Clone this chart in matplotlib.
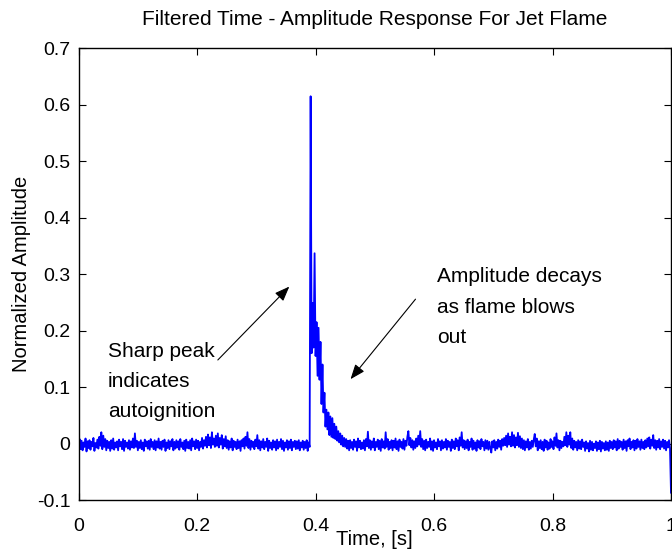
import numpy as np
import matplotlib
matplotlib.use('Agg')
import matplotlib.pyplot as plt

# amplitude samples in thousandths, 600 samples per second
before_ignition = [
    -3, 8, -10, 5, -12, 2, -6, 9, -14, 4, -8, 6, -11, 3, -5, 10, -13, 1, -7, 7,
    -9, 12, -4, 20, -10, 14, -6, 8, -12, 5, -8, 3, -13, 6, -9, 9, -11, 2, -7, 4,
    -12, 7, -5, 3, -10, 8, -13, 5, -6, 2, -9, 6, -11, 4, -7, 9, -8, 18, -6, 5,
    -12, 3, -8, 6, -10, 2, -13, 7, -5, 4, -9, 5, -11, 8, -6, 3, -10, 6, -12, 4,
    -7, 9, -9, 3, -11, 5, -6, 7, -13, 2, -8, 6, -10, 4, -5, 8, -12, 3, -9, 6,
    -7, 4, -11, 8, -6, 2, -10, 5, -13, 7, -8, 3, -9, 6, -12, 9, -5, 4, -10, 7,
    -8, 5, -12, 3, -6, 10, -9, 6, -4, 12, -7, 16, -3, 11, -8, 20, -2, 9, -6, 14,
    -4, 18, -7, 10, -2, 15, -9, 8, -5, 13, -8, 6, -11, 4, -7, 9, -12, 5, -6, 3,
    -10, 7, -8, 4, -13, 6, -5, 9, -9, 12, -4, 20, -8, 8, -11, 5, -6, 3, -10, 7,
    -5, 15, -9, 6, -12, 4, -7, 8, -10, 3, -6, 9, -13, 5, -8, 2, -11, 6, -7, 4,
    -12, 7, -9, 3, -6, 8, -10, 5, -13, 2, -7, 6, -11, 4, -8, 7, -12, 3, -6, 5,
    -10, 4, -9, 6, -12, 2, -7, 5, -11, 3, -8, 6, -13, 2, -6,
]
ignition_peak = [
    615, 160, 249, 170, 337, 155, 215, 120, 205, 113, 180, 70, 140, 55, 90, 30,
    60, 25, 55, 15, 48, 12, 45, 10, 35, 8, 30, 5, 22, 2, 18, -2, 14, -5, 10, -6,
]
after_blowout = [
    8, -9, 5, -12, 6, -8, 3, -11, 7, -6, 4, -13, 9, -7, 5, -10, 2, -9, 6, -12,
    8, -5, 21, -8, 6, -11, 4, -7, 9, -12, 3, -6, 7, -10, 5, -13, 8, -7, 4, -9,
    20, -6, 8, -11, 3, -8, 6, -12, 5, -7, 9, -10, 4, -13, 7, -6, 3, -9, 8, -11,
    5, -4, 12, 22, -3, 10, -7, 6, -11, 4, -8, 9, -5, 14, -2, 22, -6, 8, -10, 5,
    -12, 7, -8, 3, -6, 9, -11, 4, -13, 6, -7, 2, -10, 8, -5, 4, -12, 6, -9, 3,
    -7, 8, -11, 5, -6, 3, -13, 7, -8, 4, -10, 9, -5, 6, -12, 11, -4, 20, -7, 6,
    -10, 4, -8, 7, -12, 3, -6, 9, -11, 5, -9, 2, -13, 6, -7, 4, -10, 8, -5, 3,
    -12, 6, -9, 5, -11, 3, -8, -16, 4, -7, 6, -12, 3, -9, 7, -6, 5, -11, 8, -4,
    10, -3, 14, -6, 18, -2, 12, -5, 20, -4, 15, -7, 11, -3, 19, -6, 13, -8, 9, -10,
    6, -12, 4, -7, 8, -11, 3, -9, 5, -6, 7, 17, -5, 9, -12, 4, -8, 6, -10, 3,
    -13, 7, -7, 5, -11, 2, -9, 8, -6, 4, -10, 11, -4, 18, -7, 6, -12, 5, -8, 3,
    -5, 12, -3, 20, -6, 14, -2, 20, -8, 9, -11, 5, -7, 3, -12, 6, -9, 4, -10, 7,
    -6, 2, -13, 4, -9, 1, -14, 5, -11, 3, -12, 0, -8, 4, -13, 2, -10, 5, -14, 3,
    -9, 1, -12, 4, -11, 2, -13, 5, -8, 3, -10, 6, -7, 4, -12, 8, -9, 5, -6, 3,
    -11, 7, -8, 4, -13, 6, -5, 9, -10, 3, -7, 6, -12, 5, -9, 8, -6, 4, -11, 7,
    -8, 3, -10, 6, -7, 9, -5, 11, -9, 7, -4, 15, -8, 6, -11, 5, -7, 8, -10, 4,
    -6, 7, -9, 5, -12, 3, -7, 6, -8, -87,
]

x_ticks = [0, 0.2, 0.4, 0.6, 0.8, 1]
x_tick_labels = ['0', '0.2', '0.4', '0.6', '0.8', '1']
y_ticks = [-0.1, 0, 0.1, 0.2, 0.3, 0.4, 0.5, 0.6, 0.7]
y_tick_labels = ['-0.1', '0', '0.1', '0.2', '0.3', '0.4', '0.5', '0.6', '0.7']

amp = np.array(before_ignition + ignition_peak + after_blowout) / 1000.0
t = np.arange(len(amp)) / (len(amp) - 1)

plt.rcParams['font.family'] = ['Liberation Sans', 'DejaVu Sans']

fig = plt.figure(figsize=(6.72, 5.53), dpi=100)
ax = fig.add_axes([0.117, 0.0958, 0.8815, 0.8169])

ax.plot(t, amp, color='#0000ff', lw=1.3)

ax.set_xlim(0, 1)
ax.set_ylim(-0.1, 0.7)
ax.set_xticks(x_ticks)
ax.set_xticklabels(x_tick_labels)
ax.set_yticks(y_ticks)
ax.set_yticklabels(y_tick_labels)
ax.tick_params(direction='in', top=True, right=True, length=5, width=0.8,
               labelsize=14, pad=6)
ax.tick_params(axis='x', pad=13)
for s in ax.spines.values():
    s.set_linewidth(1.0)

ax.set_title('Filtered Time - Amplitude Response For Jet Flame', fontsize=15, pad=17)
ax.set_xlabel('Time, [s]', fontsize=14.5, labelpad=-4)
ax.set_ylabel('Normalized Amplitude', fontsize=14.5, labelpad=4)

arrow = dict(arrowstyle='-|>,head_length=0.9,head_width=0.35', color='k',
             lw=0.8, shrinkA=0, shrinkB=0)
ax.annotate('', xy=(0.3557, 0.278), xytext=(0.235, 0.148), arrowprops=arrow)
ax.annotate('', xy=(0.459, 0.114), xytext=(0.5687, 0.2557), arrowprops=arrow)

ax.text(0.049, 0.110, 'Sharp peak\nindicates\nautoignition', fontsize=15,
        ha='left', va='center', linespacing=1.75)
ax.text(0.6046, 0.2416, 'Amplitude decays\nas flame blows\nout', fontsize=15,
        ha='left', va='center', linespacing=1.75)

fig.savefig('out.png', dpi=100)
